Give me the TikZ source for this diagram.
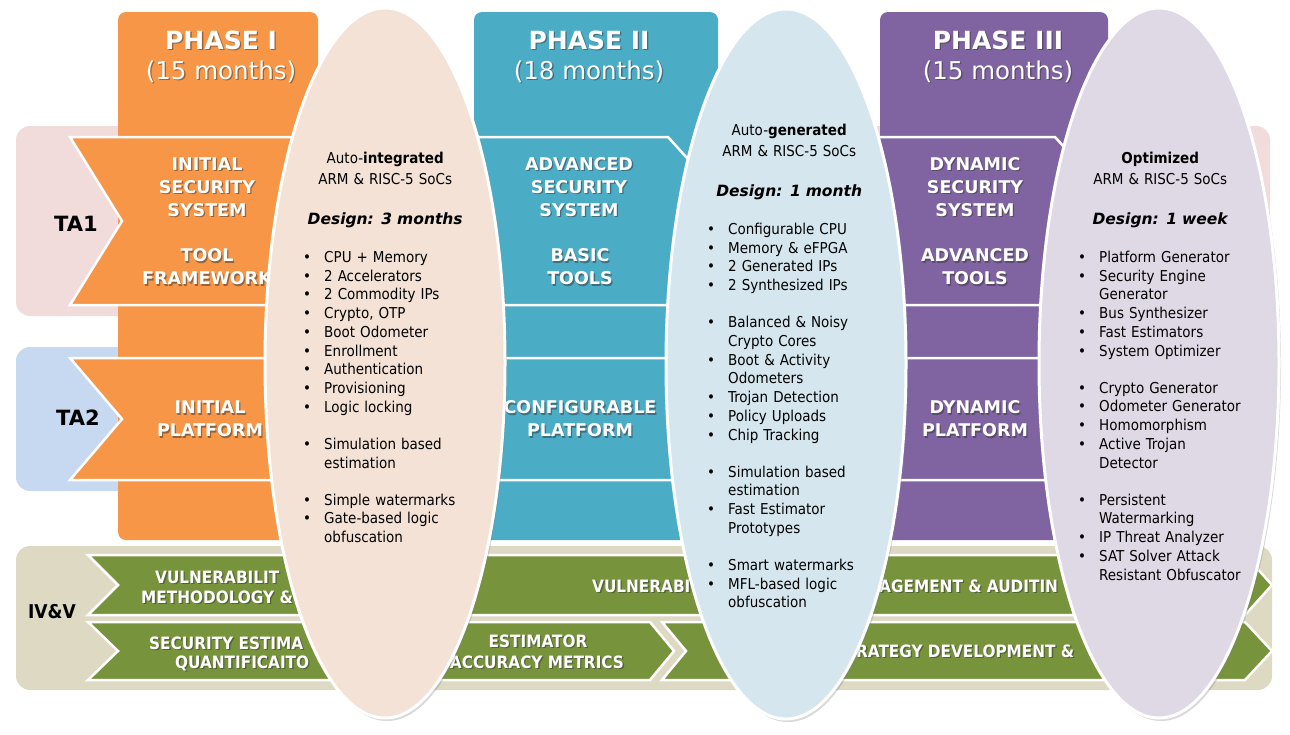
\documentclass[tikz,border=0pt]{standalone}
\usepackage{fontspec}
\setmainfont{DejaVu Sans Condensed}
\newfontfamily\verd{DejaVu Sans}
\usetikzlibrary{shapes.geometric, shadows}

\definecolor{phaseA}{HTML}{F79646}
\definecolor{phaseB}{HTML}{4BACC6}
\definecolor{phaseC}{HTML}{8064A2}
\definecolor{bandA}{HTML}{F2DCDB}
\definecolor{bandB}{HTML}{C6D9F1}
\definecolor{bandC}{HTML}{DDD9C3}
\definecolor{ivgreen}{HTML}{77933C}
\definecolor{ovalA}{HTML}{F3E2D5}
\definecolor{ovalB}{HTML}{D5E6EE}
\definecolor{ovalC}{HTML}{DFD8E5}

%% bullet lines inside the ovals
\newcommand\bitem[1]{\par\hangindent=21pt\noindent\makebox[21pt][l]{\textbullet}\mbox{#1}}
\newcommand\bitemii[2]{\bitem{#1}\newline\mbox{#2}}
\newcommand\gap[1][18.5pt]{\par\vspace{#1}}
\newcommand\design[1]{{\verd\bfseries\itshape\fontsize{15.5}{18.7}\selectfont #1}}
%% white text with a dark drop behind it
\newcommand\shadowed[4][col text]{%
  \node [#1, text=black!80, opacity=.5, xshift=1.3pt, yshift=-1.3pt] (#2 shade) at (#3) {#4};
  \node [#1] (#2) at (#3) {#4};}

\begin{document}
\begin{tikzpicture}[x=1pt, y=-1pt,
    ta band/.style = {rounded corners=14pt},
    phase box/.style = {rounded corners=8pt},
    arrow box/.style = {draw=white, line width=2.5pt, line join=miter},
    oval/.style = {ellipse, draw=white, line width=3pt, inner sep=0pt,
                   minimum width=240pt, minimum height=710pt,
                   drop shadow={shadow xshift=2pt, shadow yshift=-3pt, opacity=.3}},
    oval text/.style = {anchor=north west, text width=164pt, inner sep=0pt,
                        font=\fontsize{15}{18.7}\selectfont},
    col text/.style = {text=white, align=center, inner sep=0pt,
                       font=\verd\bfseries\fontsize{17.5}{23}\selectfont},
    head text/.style = {text=white, inner sep=0pt,
                        font=\verd\bfseries\fontsize{25}{25}\selectfont},
    month text/.style = {text=white, inner sep=0pt,
                         font=\verd\fontsize{24.5}{25}\selectfont},
    iv text/.style = {text=white, inner sep=0pt, anchor=west,
                      font=\bfseries\fontsize{17}{20}\selectfont},
    ta label/.style = {inner sep=0pt, font=\verd\bfseries\fontsize{21}{21}\selectfont},
  ]
  \useasboundingbox (0,0) rectangle (1290,734);

  %% Row bands
  \fill [ta band, bandA] (16,126) rectangle (1270,316);
  \fill [ta band, bandB] (16,347) rectangle (1000,491);
  \fill [ta band, bandC] (16,546) rectangle (1272,690);

  %% Phase columns
  \fill [phase box, phaseA] (118,12) rectangle (318,540);
  \fill [phase box, phaseB] (474,12) rectangle (718,540);
  \fill [phase box, phaseC] (880,12) rectangle (1108,540);

  %% TA1 and TA2 chevrons in each phase
  \foreach \col/\xl/\xr in {phaseA/70/300, phaseB/440/668, phaseC/840/1055}{%
    \draw [arrow box, fill=\col] (\xl,137) -- (\xr,137) -- (\xr+76,221)
      -- (\xr,305) -- (\xl,305) -- (\xl+52,221) -- cycle;
  }
  \foreach \col/\xl/\xr in {phaseA/70/300, phaseB/440/700, phaseC/840/1090}{%
    \draw [arrow box, fill=\col] (\xl,358) -- (\xr,358) -- (\xr+52,419)
      -- (\xr,480) -- (\xl,480) -- (\xl+52,419) -- cycle;
  }

  %% IV&V chevrons
  \draw [arrow box, fill=ivgreen] (88,555) -- (1245,555) -- (1272,585)
    -- (1245,615) -- (88,615) -- (118,585) -- cycle;
  \draw [arrow box, fill=ivgreen] (88,622) -- (650,622) -- (674,651)
    -- (650,680) -- (88,680) -- (118,651) -- cycle;
  \draw [arrow box, fill=ivgreen] (662,622) -- (1245,622) -- (1272,651)
    -- (1245,680) -- (662,680) -- (686,651) -- cycle;

  %% Phase headers
  \shadowed[head text]{headA}{221,40}{PHASE I}
  \shadowed[month text]{monthA}{221,72}{(15 months)}
  \shadowed[head text]{headB}{589,40}{PHASE II}
  \shadowed[month text]{monthB}{589,72}{(18 months)}
  \shadowed[head text]{headC}{998,40}{PHASE III}
  \shadowed[month text]{monthC}{998,72}{(15 months)}

  %% Chevron labels
  \shadowed{secA}{207,187}{INITIAL\\SECURITY\\SYSTEM}
  \shadowed{toolA}{207,267}{TOOL\\FRAMEWORK}
  \shadowed{secB}{579,187}{ADVANCED\\SECURITY\\SYSTEM}
  \shadowed{toolB}{580,267}{BASIC\\TOOLS}
  \shadowed{secC}{975,187}{DYNAMIC\\SECURITY\\SYSTEM}
  \shadowed{toolC}{975,267}{ADVANCED\\TOOLS}
  \shadowed{platA}{210,419}{INITIAL\\PLATFORM}
  \shadowed{platB}{580,419}{CONFIGURABLE\\PLATFORM}
  \shadowed{platC}{975,419}{DYNAMIC\\PLATFORM}

  %% IV&V labels (cut by the ovals)
  \shadowed[iv text]{vulnA}{155,577}{VULNERABILIT}
  \shadowed[iv text]{methA}{141,597}{METHODOLOGY \&}
  \shadowed[iv text]{vulnB}{592,586}{VULNERABI}
  \shadowed[iv text]{auditB}{879,586}{AGEMENT \& AUDITIN}
  \shadowed[iv text]{estA}{149,643}{SECURITY ESTIMA}
  \shadowed[iv text]{quantA}{175,663}{QUANTIFICAITO}
  \shadowed[iv text, anchor=center]{estB}{538,641}{ESTIMATOR}
  \shadowed[iv text, anchor=center]{accB}{537,662}{ACCURACY METRICS}
  \shadowed[iv text]{stratB}{856,651}{RATEGY DEVELOPMENT \&}

  %% Ovals
  \node [oval, fill=ovalA] (ovA) at (385,363) {};
  \node [oval, fill=ovalB] (ovB) at (786,364) {};
  \node [oval, fill=ovalC] (ovC) at (1159,363) {};

  \node [oval text] (ovtextA) at (303,152) {%
    \centering Auto-\textbf{integrated}\\[1.8pt] ARM \& RISC-5 SoCs\gap[22pt]
    \design{Design: 3 months}\gap[19pt]
    \raggedright
    \bitem{CPU + Memory}
    \bitem{2 Accelerators}
    \bitem{2 Commodity IPs}
    \bitem{Crypto, OTP}
    \bitem{Boot Odometer}
    \bitem{Enrollment}
    \bitem{Authentication}
    \bitem{Provisioning}
    \bitem{Logic locking}\gap
    \bitemii{Simulation based}{estimation}\gap
    \bitem{Simple watermarks}
    \bitemii{Gate-based logic}{obfuscation}\par};

  \node [oval text] (ovtextB) at (707,124) {%
    \centering Auto-\textbf{generated}\\[1.8pt] ARM \& RISC-5 SoCs\gap[22pt]
    \design{Design: 1 month}\gap[19pt]
    \raggedright
    \bitem{Configurable CPU}
    \bitem{Memory \& eFPGA}
    \bitem{2 Generated IPs}
    \bitem{2 Synthesized IPs}\gap
    \bitemii{Balanced \& Noisy}{Crypto Cores}
    \bitemii{Boot \& Activity}{Odometers}
    \bitem{Trojan Detection}
    \bitem{Policy Uploads}
    \bitem{Chip Tracking}\gap
    \bitemii{Simulation based}{estimation}
    \bitemii{Fast Estimator}{Prototypes}\gap
    \bitem{Smart watermarks}
    \bitemii{MFL-based logic}{obfuscation}\par};

  \node [oval text] (ovtextC) at (1078,152) {%
    \centering \textbf{Optimized}\\[1.8pt] ARM \& RISC-5 SoCs\gap[22pt]
    \design{Design: 1 week}\gap[19pt]
    \raggedright
    \bitem{Platform Generator}
    \bitemii{Security Engine}{Generator}
    \bitem{Bus Synthesizer}
    \bitem{Fast Estimators}
    \bitem{System Optimizer}\gap
    \bitem{Crypto Generator}
    \bitem{Odometer Generator}
    \bitem{Homomorphism}
    \bitemii{Active Trojan}{Detector}\gap
    \bitemii{Persistent}{Watermarking}
    \bitem{IP Threat Analyzer}
    \bitemii{SAT Solver Attack}{Resistant Obfuscator}\par};

  %% Row labels
  \node [ta label] (ta1) at (76,224) {TA1};
  \node [ta label] (ta2) at (78,418) {TA2};
  \node [inner sep=0pt, font=\bfseries\fontsize{19}{19}\selectfont] (ivv) at (52,612) {IV\&V};
\end{tikzpicture}
\end{document}
